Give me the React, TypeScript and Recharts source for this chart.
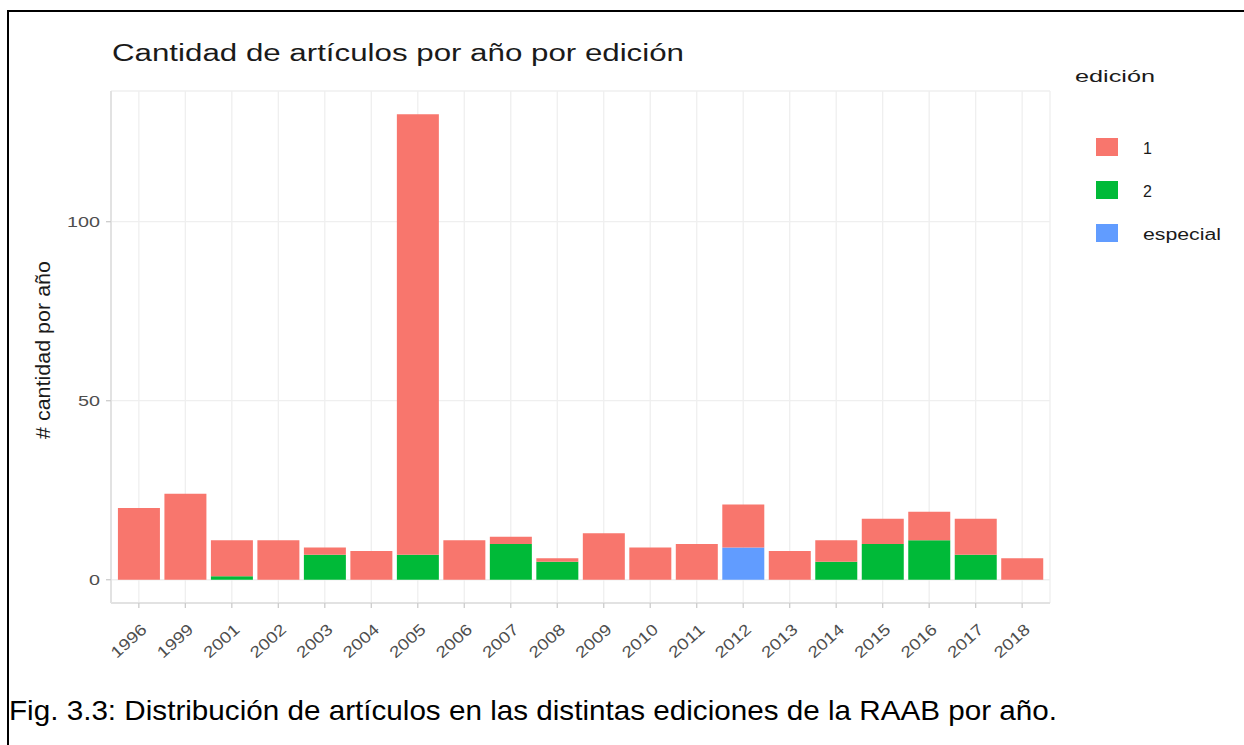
import React from 'react';
import { BarChart, Bar, XAxis, YAxis, CartesianGrid, Legend } from 'recharts';

const years = ['1996', '1999', '2001', '2002', '2003', '2004', '2005', '2006', '2007', '2008', '2009', '2010', '2011', '2012', '2013', '2014', '2015', '2016', '2017', '2018'];
const edicion1 = [20, 24, 10, 11, 2, 8, 123, 11, 2, 1, 13, 9, 10, 12, 8, 6, 7, 8, 10, 6];
const edicion2 = [0, 0, 1, 0, 7, 0, 7, 0, 10, 5, 0, 0, 0, 0, 0, 5, 10, 11, 7, 0];
const especial = [0, 0, 0, 0, 0, 0, 0, 0, 0, 0, 0, 0, 0, 9, 0, 0, 0, 0, 0, 0];
const yTicks = [0, 50, 100];
const legendOrder = ['1', '2', 'especial'];

const COL1 = '#F8766D';
const COL2 = '#00BA38';
const COL3 = '#619CFF';

const data = years.map((y, i) => ({ year: y, e1: edicion1[i], e2: edicion2[i], esp: especial[i] }));

const FONT = '"Liberation Sans", Arial, Helvetica, sans-serif';

const XTick = (props: any) => {
  const { x, y, payload } = props;
  const ax = x + 9;
  const ay = y + 21;
  return (
    <text x={ax} y={ay} transform={`rotate(-42, ${ax}, ${ay})`} textAnchor="end" fontSize={16} fill="#4d4d4d" fontFamily={FONT}
      textLength={42} lengthAdjust="spacingAndGlyphs">
      {payload.value}
    </text>
  );
};

const YTick = (props: any) => {
  const { x, y, payload } = props;
  const s = String(payload.value);
  return (
    <text x={x - 4} y={y} dy="0.36em" textAnchor="end" fontSize={15} fill="#4d4d4d" fontFamily={FONT} textLength={s.length * 11} lengthAdjust="spacingAndGlyphs">
      {s}
    </text>
  );
};

const LegendContent = (props: any) => {
  const payload: any[] = props.payload || [];
  const items = legendOrder.map((l) => payload.find((p) => String(p.value) === l)).filter(Boolean);
  return (
    <svg width={180} height={200} style={{ display: 'block' }}>
      <text x={11} y={27} fontSize={17} fill="#1a1a1a" fontFamily={FONT} textLength={80} lengthAdjust="spacingAndGlyphs">edición</text>
      {items.map((p: any, i: number) => (
        <g key={p.value}>
          <rect x={32} y={83 + i * 43} width={22} height={18} fill={p.color} />
          <text x={79} y={99 + i * 43} fontSize={16} fill="#1a1a1a" fontFamily={FONT}
            {...(String(p.value).length > 2 ? { textLength: 78, lengthAdjust: 'spacingAndGlyphs' } : {})}>
            {p.value}
          </text>
        </g>
      ))}
    </svg>
  );
};

export default function App() {
  return (
    <div style={{ position: 'absolute', left: 0, top: 0, width: 1244, height: 745, background: '#fff', overflow: 'hidden' }}>
      <div style={{ position: 'absolute', left: 7, top: 10, width: 1400, height: 900, borderLeft: '2px solid #000', borderTop: '2px solid #000' }} />
      <div style={{ position: 'absolute', left: 0, top: 0 }}>
        <BarChart width={1244} height={745} data={data} margin={{ top: 91, right: 194, bottom: 82, left: 51 }} barCategoryGap="5%">
          <CartesianGrid stroke="#efefef" strokeWidth={1.3} />
          <XAxis dataKey="year" type="category" height={60} padding={{ left: 4.6, right: 4.6 }}
            axisLine={{ stroke: '#e2e2e2', strokeWidth: 2 }} tickLine={{ stroke: '#cccccc', strokeWidth: 1.3 }} tickSize={5}
            tick={<XTick />} interval={0} />
          <XAxis xAxisId="top" dataKey="year" orientation="top" height={0} padding={{ left: 4.6, right: 4.6 }}
            axisLine={{ stroke: '#e2e2e2', strokeWidth: 2 }} tick={false} tickLine={false} />
          <YAxis type="number" width={60} domain={[-6.5, 136.5]} ticks={yTicks} allowDataOverflow
            axisLine={{ stroke: '#e2e2e2', strokeWidth: 2 }} tickLine={{ stroke: '#cccccc', strokeWidth: 1.3 }} tickSize={5}
            tick={<YTick />} />
          <YAxis yAxisId="right" orientation="right" type="number" width={0} domain={[-6.5, 136.5]} allowDataOverflow
            axisLine={{ stroke: '#e2e2e2', strokeWidth: 2 }} tick={false} tickLine={false} />
          <Legend layout="vertical" align="center" verticalAlign="middle" content={<LegendContent />}
            wrapperStyle={{ position: 'absolute', left: 1064, top: 55, width: 180, height: 200 }} />
          <Bar dataKey="esp" name="especial" stackId="a" fill={COL3} isAnimationActive={false} />
          <Bar dataKey="e2" name="2" stackId="a" fill={COL2} isAnimationActive={false} />
          <Bar dataKey="e1" name="1" stackId="a" fill={COL1} isAnimationActive={false} />
        </BarChart>
      </div>
      <svg width={1244} height={745} style={{ position: 'absolute', left: 0, top: 0, pointerEvents: 'none' }}>
        <text x={112} y={61} fontSize={23} fill="#1a1a1a" fontFamily={FONT} textLength={572} lengthAdjust="spacingAndGlyphs">
          Cantidad de artículos por año por edición
        </text>
        <text x={0} y={0} transform="translate(50, 350) rotate(-90)" textAnchor="middle" fontSize={21} fill="#1a1a1a" fontFamily={FONT} textLength={178} lengthAdjust="spacingAndGlyphs">
          # cantidad por año
        </text>
        <text x={9} y={720} fontSize={28} fill="#000" fontFamily={FONT} textLength={1048} lengthAdjust="spacingAndGlyphs">
          Fig. 3.3: Distribución de artículos en las distintas ediciones de la RAAB por año.
        </text>
      </svg>
    </div>
  );
}
